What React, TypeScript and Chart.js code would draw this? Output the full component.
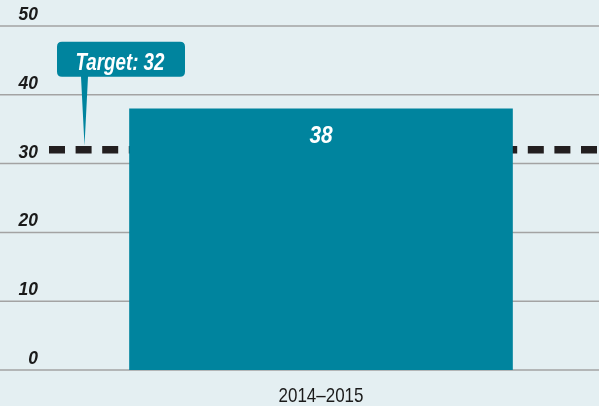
import React, { useEffect, useRef } from "react";
import { Chart, registerables } from "chart.js";

Chart.register(...registerables);

const categories = ["2014–2015"];
const values = [38];
const target = 32;
const targetLabel = "Target: 32";
const yTicks = [0, 10, 20, 30, 40, 50];

const FONT = '"Liberation Sans", Arial, sans-serif';
const BG = "#e4eff2";
const BAR = "#00849e";
const DASH = "#231f20";
const GRID = "#a3a3a3";
const INK = "#1a1a1a";

function drawText(
  ctx: CanvasRenderingContext2D,
  text: string,
  x: number,
  y: number,
  font: string,
  align: CanvasTextAlign,
  sx: number,
  color: string
) {
  ctx.save();
  ctx.font = font;
  ctx.fillStyle = color;
  ctx.textAlign = align;
  ctx.textBaseline = "alphabetic";
  ctx.translate(x, y);
  ctx.scale(sx, 1);
  ctx.fillText(text, 0, 0);
  ctx.restore();
}

function fitScale(ctx: CanvasRenderingContext2D, text: string, font: string, want: number) {
  ctx.save();
  ctx.font = font;
  const w = ctx.measureText(text).width;
  ctx.restore();
  return w > 0 ? want / w : 1;
}

const customPlugin = {
  id: "custom",
  beforeDraw(chart: any) {
    const { ctx, width, height } = chart;
    ctx.save();
    ctx.fillStyle = BG;
    ctx.fillRect(0, 0, width, height);
    ctx.restore();
  },
  beforeDatasetsDraw(chart: any) {
    const { ctx, width, chartArea } = chart;
    const y = chart.scales.y;
    const x = chart.scales.x;
    ctx.save();
    // gridlines
    ctx.strokeStyle = GRID;
    ctx.lineWidth = 1.5;
    yTicks.forEach((t) => {
      const p = y.getPixelForValue(t);
      ctx.beginPath();
      ctx.moveTo(0, p);
      ctx.lineTo(width, p);
      ctx.stroke();
    });
    ctx.restore();
    // y tick labels
    const tickFont = `italic bold 19px ${FONT}`;
    yTicks.forEach((t) => {
      const p = y.getPixelForValue(t);
      drawText(ctx, String(t), 38, p - 6, tickFont, "right", 0.92, INK);
    });
    // x labels
    const xFont = `21px ${FONT}`;
    categories.forEach((c, i) => {
      const sx = fitScale(ctx, c, xFont, 85);
      drawText(ctx, c, x.getPixelForValue(i), chartArea.bottom + 32, xFont, "center", sx, INK);
    });
    // target dashed line
    const ty = y.getPixelForValue(target);
    ctx.save();
    ctx.strokeStyle = DASH;
    ctx.lineWidth = 7.5;
    ctx.setLineDash([16, 10.6]);
    ctx.beginPath();
    ctx.moveTo(chartArea.left + 6, ty);
    ctx.lineTo(width, ty);
    ctx.stroke();
    ctx.restore();
  },
  afterDatasetsDraw(chart: any) {
    const { ctx, chartArea } = chart;
    const y = chart.scales.y;
    const meta = chart.getDatasetMeta(0);
    // value labels
    const vFont = `italic bold 24px ${FONT}`;
    meta.data.forEach((bar: any, i: number) => {
      drawText(ctx, String(values[i]), bar.x, bar.y + 34, vFont, "center", 0.87, "#ffffff");
    });
    // callout
    const ty = y.getPixelForValue(target);
    const bx = chartArea.left + 14;
    const bw = 128;
    const bTop = ty - 108;
    const bBot = ty - 73;
    const r = 5;
    ctx.save();
    ctx.fillStyle = BAR;
    ctx.beginPath();
    ctx.moveTo(bx + r, bTop);
    ctx.lineTo(bx + bw - r, bTop);
    ctx.quadraticCurveTo(bx + bw, bTop, bx + bw, bTop + r);
    ctx.lineTo(bx + bw, bBot - r);
    ctx.quadraticCurveTo(bx + bw, bBot, bx + bw - r, bBot);
    ctx.lineTo(bx + 31, bBot);
    ctx.lineTo(bx + 27.5, ty - 4);
    ctx.lineTo(bx + 24, bBot);
    ctx.lineTo(bx + r, bBot);
    ctx.quadraticCurveTo(bx, bBot, bx, bBot - r);
    ctx.lineTo(bx, bTop + r);
    ctx.quadraticCurveTo(bx, bTop, bx + r, bTop);
    ctx.closePath();
    ctx.fill();
    ctx.restore();
    const tFont = `italic bold 24px ${FONT}`;
    const sx = fitScale(ctx, targetLabel, tFont, 89);
    drawText(ctx, targetLabel, bx + bw / 2 - 1, bTop + 28, tFont, "center", sx, "#ffffff");
  },
};

export default function App() {
  const ref = useRef<HTMLCanvasElement | null>(null);
  useEffect(() => {
    document.body.style.margin = "0";
    document.body.style.background = BG;
    const chart = new Chart(ref.current as HTMLCanvasElement, {
      type: "bar",
      data: {
        labels: categories,
        datasets: [
          {
            data: values,
            backgroundColor: BAR,
            borderWidth: 0,
            barPercentage: 0.69,
            categoryPercentage: 1,
          },
        ],
      },
      options: {
        responsive: false,
        animation: false,
        devicePixelRatio: 1,
        layout: { padding: { left: 43, top: 26, right: 0, bottom: 0 } },
        plugins: { legend: { display: false }, tooltip: { enabled: false } },
        scales: {
          x: {
            grid: { display: false },
            border: { display: false },
            ticks: { display: false },
            afterFit: (scale: any) => {
              scale.height = 36;
            },
          },
          y: {
            display: false,
            min: 0,
            max: 50,
            ticks: { stepSize: 10 },
          },
        },
      },
      plugins: [customPlugin],
    });
    return () => chart.destroy();
  }, []);
  return (
    <div style={{ position: "fixed", left: 0, top: 0, width: 599, height: 406 }}>
      <canvas ref={ref} width={599} height={406} />
    </div>
  );
}
